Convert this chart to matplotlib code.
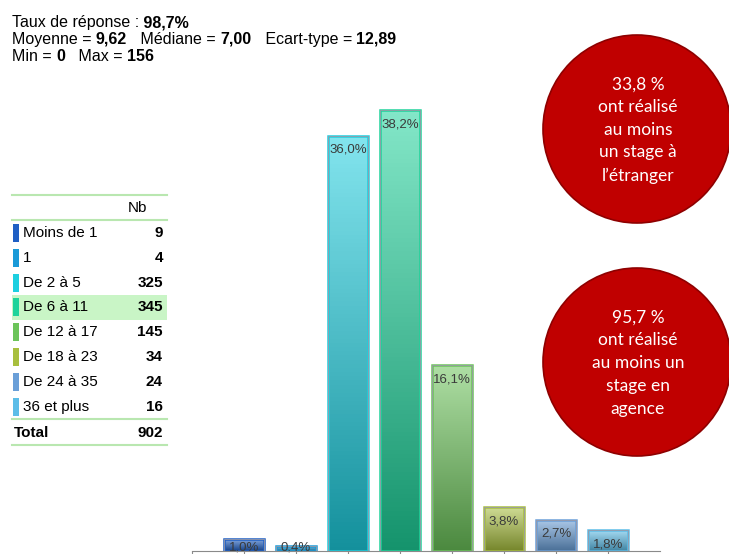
import numpy as np
import matplotlib.pyplot as plt
from matplotlib.colors import to_rgb
from matplotlib.patches import Circle, Rectangle

# --- Data ---
categories = ["Moins de 1", "1", "De 2 à 5", "De 6 à 11", "De 12 à 17",
              "De 18 à 23", "De 24 à 35", "36 et plus"]
counts = [9, 4, 325, 345, 145, 34, 24, 16]
percents = [1.0, 0.4, 36.0, 38.2, 16.1, 3.8, 2.7, 1.8]
total = 902
colors = ["#1f5fc4", "#1a9ad8", "#1dcfe0", "#1ed39b", "#6cc45a",
          "#a8bf3e", "#6a9fd8", "#5cbde8"]

stats_lines = [
    [("Taux de réponse :", "normal"), (" 98,7%", "bold")],
    [("Moyenne = ", "normal"), ("9,62", "bold"), ("   Médiane = ", "normal"),
     ("7,00", "bold"), ("   Ecart-type = ", "normal"), ("12,89", "bold")],
    [("Min = ", "normal"), ("0", "bold"), ("   Max = ", "normal"), ("156", "bold")],
]
bubbles = [
    "33,8 %\nont réalisé\nau moins\nun stage à\nl’étranger",
    "95,7 %\nont réalisé\nau moins un\nstage en\nagence",
]

W, H = 729, 554
fig = plt.figure(figsize=(W / 100, H / 100), dpi=100)
plt.rcParams['font.family'] = ['Liberation Sans', 'DejaVu Sans']


def mix(c, other, t):
    c = np.array(to_rgb(c))
    return tuple(c * (1 - t) + np.array(other) * t)


# --- Bar chart (pixel-matched axes) ---
px_per_unit = 52
px_per_pct = 11.54
left_px, bottom_px, top_px = 192, 551, 60
ax = fig.add_axes([left_px / W, (H - bottom_px) / H,
                   9 * px_per_unit / W, (bottom_px - top_px) / H])
x = np.arange(len(categories))
ax.set_xlim(-1, 8)
ax.set_ylim(0, (bottom_px - top_px) / px_per_pct)
bars = ax.bar(x, percents, width=0.76, color="none", edgecolor=colors,
              linewidth=1.8, zorder=3)
grad = np.linspace(0, 1, 100)
for b, c in zip(bars, colors):
    top = np.array(mix(c, (1, 1, 1), 0.45))
    bot = np.array(mix(c, (0, 0, 0), 0.30))
    img = (top[None, :] * (1 - grad[:, None]) + bot[None, :] * grad[:, None])
    img = img.reshape(-1, 1, 3)
    im = ax.imshow(img, extent=[b.get_x(), b.get_x() + b.get_width(),
                                0, b.get_height()],
                   aspect="auto", origin="upper", zorder=2)
    im.set_clip_path(b)
    # thin grey outline
    ax.add_patch(Rectangle((b.get_x(), 0), b.get_width(), b.get_height(),
                           fill=False, edgecolor="#9a9aa8", linewidth=0.6,
                           zorder=4))
    # label inside the top of the bar, kept just above the axis for tiny bars
    label_y = max(b.get_height() - 14 / px_per_pct, 4 / px_per_pct)
    ax.text(b.get_x() + b.get_width() / 2, label_y,
            f"{b.get_height():.1f}%".replace(".", ","),
            ha="center", va="center", fontsize=9.5, color="#3a3a3a",
            zorder=5, clip_on=False)

for s in ["top", "right", "left"]:
    ax.spines[s].set_visible(False)
ax.spines["bottom"].set_color("#8a8a8a")
ax.spines["bottom"].set_zorder(6)
ax.set_yticks([])
ax.set_xticks(np.arange(-1, 8))
ax.set_xticklabels([])
ax.tick_params(axis="x", length=4, color="#8a8a8a", direction="out")
ax.patch.set_alpha(0)

# --- Overlay axes in pixel coordinates ---
ov = fig.add_axes([0, 0, 1, 1], zorder=-1)
ov.set_xlim(0, W)
ov.set_ylim(H, 0)
ov.axis("off")

# stats text at top left
for i, parts in enumerate(stats_lines):
    prev = ov.text(12, 27 + i * 17, parts[0][0], fontsize=11.5,
                   fontweight=parts[0][1], va="baseline", ha="left")
    for txt, w in parts[1:]:
        prev = ov.annotate(txt, xy=(1, 0), xycoords=prev, va="bottom",
                           ha="left", fontsize=11.5, fontweight=w)

# table
line_c = "#b9e7b0"
tx0, tx1 = 12, 167
row_y0, row_step = 233, 24.8
fs = 11
ov.plot([tx0, tx1], [195, 195], color=line_c, lw=1.5)
ov.text(137, 208, "Nb", ha="center", va="center", fontsize=fs)
ov.plot([tx0, tx1], [220, 220], color=line_c, lw=1.5)
for i, (cat, n, c) in enumerate(zip(categories, counts, colors)):
    y = row_y0 + i * row_step
    if n == max(counts):
        ov.add_patch(Rectangle((tx0, y - 12.5), tx1 - tx0, 25,
                               color="#c9f5c6", lw=0))
    ov.add_patch(Rectangle((13, y - 9), 6, 18, color=c, lw=0))
    ov.text(23, y, cat, ha="left", va="center", fontsize=fs)
    ov.text(163, y, str(n), ha="right", va="center", fontsize=fs,
            fontweight="bold")
ov.plot([tx0, tx1], [419, 419], color=line_c, lw=1.5)
ov.text(14, 433, "Total", ha="left", va="center", fontsize=fs,
        fontweight="bold")
ov.text(163, 433, str(total), ha="right", va="center", fontsize=fs,
        fontweight="bold")
ov.plot([tx0, tx1], [445, 445], color=line_c, lw=1.5)

# red bubbles
for cy, txt in zip([129, 362], bubbles):
    ov.add_patch(Circle((637, cy), 94, facecolor="#c00000",
                        edgecolor="#8e0000", lw=1.2))
    ov.text(638, cy + 1, txt, ha="center", va="center", color="white",
            fontsize=12.5, family=["Lato", "DejaVu Sans"], linespacing=1.52)

fig.savefig("out.png", dpi=100)
